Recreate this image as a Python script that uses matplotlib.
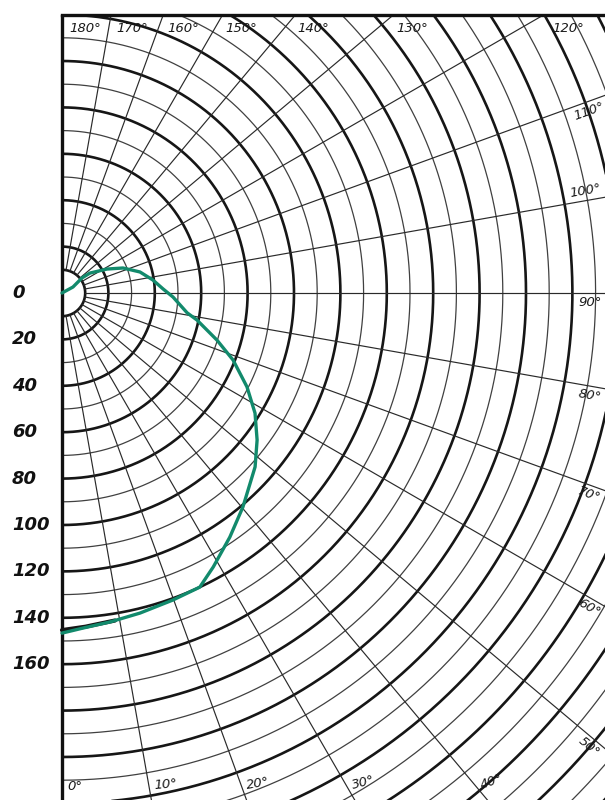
import numpy as np
import matplotlib
matplotlib.use("Agg")
import matplotlib.pyplot as plt
from matplotlib.transforms import offset_copy
from matplotlib.patches import Rectangle
from matplotlib.lines import Line2D

# ---------------- data ----------------
curve_theta_deg = [120, 118.6, 127, 125.5, 118, 112.3, 105.1, 98.1, 92.3, 87.9, 81,
                   78.7, 73.1, 68.6, 63.1, 58.1, 53.0, 48.0, 40.2, 34.5, 28.9,
                   25.1, 19.9, 13.7, 8.3, 3.6, 0]
curve_r = [0, 5.4, 10.8, 14.8, 22, 28.4, 34.8, 39.6, 43.6, 47.9, 54.6,
           59.3, 69.8, 79.2, 89.4, 98, 105.3, 112, 120.8, 127.7, 134.9,
           140, 140.7, 142, 143.3, 144.7, 146.6]

# dark original trace visible under the green line near the bottom
trace_theta_deg = [0, 4, 9.2]
trace_r = [145.3, 144.2, 143.0]

ring_radii = list(range(10, 341, 10))
spoke_angles_deg = list(range(10, 180, 10))
radial_labels = [0, 20, 40, 60, 80, 100, 120, 140, 160]
angle_labels_top = [120, 130, 140, 150, 160, 170, 180]
angle_labels_right = [50, 60, 70, 80, 90, 100, 110]
angle_labels_bottom = [0, 10, 20, 30, 40]

# ---------------- layout ----------------
W, H = 605, 800
CX, CY = 62, 293          # pole position in pixels (from top-left)
PPU = 2.32                # pixels per radial unit
RMAX = 340
TOP = 15                  # top frame line (pixels from top)
R_IN = 10

fig = plt.figure(figsize=(W / 100, H / 100), dpi=100)
fig.patch.set_facecolor("white")
Rpx = RMAX * PPU
ax = fig.add_axes([(CX - Rpx) / W, (H - CY - Rpx) / H, 2 * Rpx / W, 2 * Rpx / H],
                  projection="polar")
ax.set_theta_zero_location("S")
ax.set_theta_direction(1)
ax.set_rlim(0, RMAX)
ax.grid(False)
ax.set_xticks([])
ax.set_yticks([])
ax.spines["polar"].set_visible(False)
ax.patch.set_alpha(0)

# rings (right half only)
th_half = np.linspace(0, np.pi, 721)
for r in ring_radii:
    thick = (r % 20 == 0) or r == R_IN
    ax.plot(th_half, np.full_like(th_half, r),
            color="#161616" if thick else "#404040",
            lw=1.9 if thick else 0.9, zorder=2, solid_capstyle="butt")

# spokes
for a in spoke_angles_deg:
    t = np.deg2rad(a)
    ax.plot([t, t], [R_IN, RMAX], color="#2a2a2a", lw=0.85, zorder=2)

# left frame line (0 deg and 180 deg directions)
ax.plot([0, 0], [0, RMAX], color="#111111", lw=2.4, zorder=3, solid_capstyle="butt")
ax.plot([np.pi, np.pi], [0, RMAX], color="#111111", lw=2.4, zorder=3, solid_capstyle="butt")

# original dark trace + green curve
ax.plot(np.deg2rad(trace_theta_deg), trace_r, color="#151515", lw=3.0,
        zorder=4, solid_capstyle="round")
ax.plot(np.deg2rad(curve_theta_deg), curve_r, color="#128a6c", lw=2.4,
        zorder=5, solid_capstyle="round", solid_joinstyle="round")

# radial value labels on the left
lab_tr = offset_copy(ax.transData, fig=fig, x=-50, y=0, units="dots")
for v in radial_labels:
    ax.text(0, v, str(v), transform=lab_tr, ha="left", va="center",
            fontsize=13, fontweight="bold", fontstyle="italic",
            color="#111111", clip_on=False, zorder=10)

label_kw = dict(fontsize=9.5, fontstyle="italic", color="#1a1a1a",
                clip_on=False, zorder=10)

# top angle labels
for a in angle_labels_top:
    ta = a - 1.6
    dist_up = (CY - TOP - 13)
    r = dist_up / (-np.cos(np.deg2rad(ta))) / PPU
    ax.text(np.deg2rad(ta), r, f"{a}°", ha="left", va="center", **label_kw)

# right angle labels
for a in angle_labels_right:
    dist_x = (W - 3 - CX)
    r = dist_x / np.sin(np.deg2rad(a)) / PPU
    above = (a == 100)
    tr = offset_copy(ax.transData, fig=fig, x=0, y=(3 if above else -3), units="dots")
    ax.text(np.deg2rad(a), r, f"{a}°", transform=tr, ha="right",
            va="bottom" if above else "top", rotation=a - 90,
            rotation_mode="anchor", **label_kw)

# bottom angle labels
for a in angle_labels_bottom:
    dist_down = (H - 14 - CY)
    r = dist_down / np.cos(np.deg2rad(a)) / PPU
    tr = offset_copy(ax.transData, fig=fig, x=5, y=0, units="dots")
    ax.text(np.deg2rad(a), r, f"{a}°", transform=tr, ha="left", va="center",
            rotation=a * 0.5, rotation_mode="anchor", **label_kw)

# mask above top frame line and draw the frame line
fig.add_artist(Rectangle((0, 1 - TOP / H), 1, TOP / H, transform=fig.transFigure,
                         facecolor="white", edgecolor="none", zorder=20))
fig.add_artist(Line2D([CX / W, 1], [1 - TOP / H, 1 - TOP / H],
                      transform=fig.transFigure, color="#111111", lw=2.4, zorder=21))

fig.savefig("out.png", dpi=100, facecolor="white")
